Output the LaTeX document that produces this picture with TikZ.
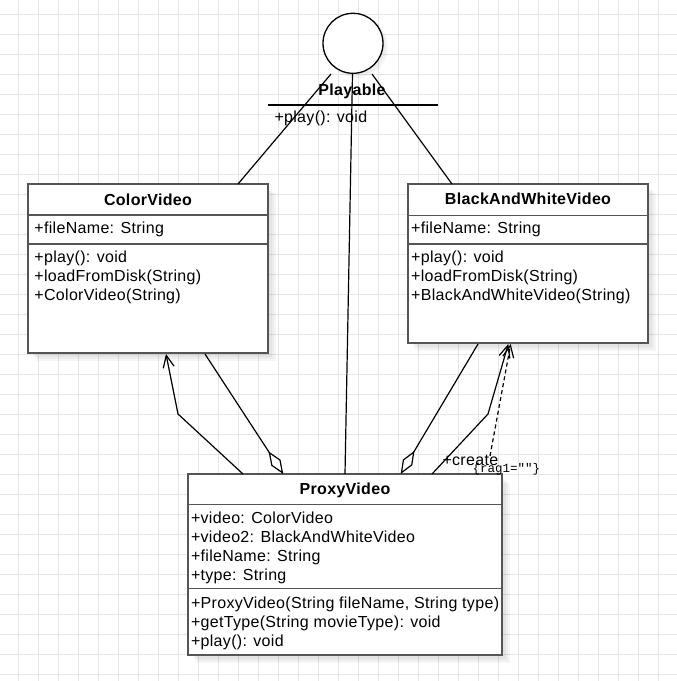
\documentclass[tikz,border=0pt]{standalone}
\usepackage{fontspec}
\setmainfont{Liberation Sans}[LetterSpace=2]
\newfontfamily\monof{Liberation Mono}
\usetikzlibrary{arrows.meta}
\definecolor{gridc}{HTML}{E6E6E6}
\definecolor{borderc}{HTML}{555555}
\tikzset{
  boxshape/.style={draw=borderc, line width=2pt, fill=white, inner sep=0pt, outer sep=0pt, anchor=north west},
  divider/.style={draw=borderc, line width=1.6pt},
  txt/.style={inner sep=0pt, outer sep=0pt, anchor=base west, font=\fontsize{16}{19}\selectfont},
  ttl/.style={inner sep=0pt, outer sep=0pt, anchor=base, font=\fontsize{16}{19}\selectfont\bfseries},
  conn/.style={draw=black, line width=1.2pt},
  openarrow/.style={-{Straight Barb[length=12pt,width=11pt,line width=1.2pt]}},
  aggr/.style={-{Diamond[fill=white,length=27pt,width=11pt,line width=1.2pt]}},
  shadowA/.style={fill=black, fill opacity=0.035, draw=none},
}
\begin{document}
\begin{tikzpicture}[x=1pt,y=-1pt]
\useasboundingbox (0,0) rectangle (677,681);
\fill[white] (0,0) rectangle (677,681);
% grid
\foreach \gx in {18.5,38.5,...,677} \draw[gridc, line width=1pt] (\gx,0) -- (\gx,681);
\foreach \gy in {14.5,34.5,...,681} \draw[gridc, line width=1pt] (0,\gy) -- (677,\gy);

% shadows
\foreach \a/\b/\c/\d in {28/184/268/353, 408/184/648/343, 188/474/502/655} {
  \fill[shadowA] (\a+9,\b+9) rectangle (\c+8,\d+8);
  \fill[shadowA] (\a+7,\b+7) rectangle (\c+6,\d+6);
  \fill[shadowA] (\a+5,\b+5) rectangle (\c+4,\d+4);
}
\fill[shadowA] (357,47) circle (31);
\fill[shadowA] (356,46) circle (30);

% interface circle
\node[circle, draw=black, line width=1.3pt, fill=white, minimum size=60pt, inner sep=0pt, outer sep=0pt] (iface) at (353,43.3) {};
\node[ttl] (playT) at (352,95) {Playable};
\draw[line width=1.2pt] (268,105) -- (438,105);
\node[txt] (playM) at (274.5,122) {+play(): void};

% ColorVideo
\node[boxshape, minimum width=240pt, minimum height=169pt] (cv) at (28,184) {};
\draw[divider] (28,215) -- (268,215);
\draw[divider] (28,244) -- (268,244);
\node[ttl] (cvT) at (148,205) {ColorVideo};
\node[txt] (cvA) at (34.4,233.5) {+fileName: String};
\node[txt] (cvM1) at (34.4,262) {+play(): void};
\node[txt] (cvM2) at (34.4,281) {+loadFromDisk(String)};
\node[txt] (cvM3) at (34.4,300) {+ColorVideo(String)};

% BlackAndWhiteVideo
\node[boxshape, minimum width=240pt, minimum height=159pt] (bw) at (408,184) {};
\draw[divider] (408,215.5) -- (648,215.5);
\draw[divider] (408,244) -- (648,244);
\node[ttl] (bwT) at (528,204.5) {BlackAndWhiteVideo};
\node[txt] (bwA) at (411.2,233.5) {+fileName: String};
\node[txt] (bwM1) at (411.2,262) {+play(): void};
\node[txt] (bwM2) at (411.2,281) {+loadFromDisk(String)};
\node[txt] (bwM3) at (411.2,300) {+BlackAndWhiteVideo(String)};

% ProxyVideo
\node[boxshape, minimum width=314pt, minimum height=181pt] (pv) at (188,474) {};
\draw[divider] (188,504.5) -- (502,504.5);
\draw[divider] (188,588.5) -- (502,588.5);
\node[ttl] (pvT) at (345,494.5) {ProxyVideo};
\node[txt] (pvA1) at (191,523) {+video: ColorVideo};
\node[txt] (pvA2) at (191,542) {+video2: BlackAndWhiteVideo};
\node[txt] (pvA3) at (191,561) {+fileName: String};
\node[txt] (pvA4) at (191,580) {+type: String};
\node[txt] (pvM1) at (191,608) {+ProxyVideo(String fileName, String type)};
\node[txt] (pvM2) at (191,627) {+getType(String movieType): void};
\node[txt] (pvM3) at (191,646) {+play(): void};

% connector points
\coordinate (ifL) at (331,74);
\coordinate (ifM) at (352.5,74);
\coordinate (ifR) at (372,74);
\coordinate (cvTop) at (238,184);
\coordinate (bwTop) at (452,184);
\coordinate (pvTopM) at (345,474);
\coordinate (pvTopA) at (243,474);
\coordinate (bendA) at (178,414);
\coordinate (cvBotA) at (166,354);
\coordinate (cvBotD) at (205,354);
\coordinate (pvTopD) at (283.3,474);
\coordinate (bwBotD) at (478,344);
\coordinate (pvTopD2) at (400.7,474);
\coordinate (pvTopB) at (432,474);
\coordinate (bendB) at (488,414);
\coordinate (bwBotB) at (508.3,344);
\coordinate (dashS) at (490,456);
\coordinate (bwBotC) at (510.7,344);

% connectors
\draw[conn] (ifL) -- (cvTop);
\draw[conn] (ifM) -- (pvTopM);
\draw[conn] (ifR) -- (bwTop);
\draw[conn, openarrow] (pvTopA) -- (bendA) -- (cvBotA);
\draw[conn, aggr] (cvBotD) -- (pvTopD);
\draw[conn, aggr] (bwBotD) -- (pvTopD2);
\draw[conn, openarrow] (pvTopB) -- (bendB) -- (bwBotB);
\draw[conn, openarrow, dash pattern=on 4pt off 3pt] (dashS) -- (bwBotC);

% labels
\node[txt] (lblCreate) at (442.5,465) {+create};
\node[inner sep=0pt, outer sep=0pt, anchor=base west, font=\monof\fontsize{12.5}{14}\selectfont] (lblTag) at (472.5,472.5) {\{rag1=""\}};
\end{tikzpicture}
\end{document}
